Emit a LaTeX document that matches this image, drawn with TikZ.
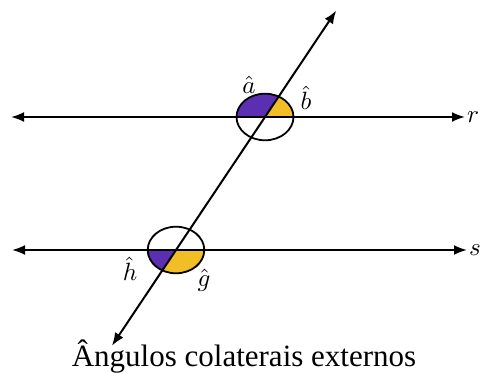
\documentclass[tikz,border=0pt]{standalone}
\usepackage{fontspec}
\setmainfont{Liberation Serif}
\usetikzlibrary{calc,arrows.meta}
\definecolor{anglepurple}{RGB}{92,46,178}
\definecolor{angleyellow}{RGB}{242,190,38}
\newcommand{\anglbl}[1]{\scalebox{2.5}{$#1$}}
\tikzset{
  line/.style={line width=2pt,{Latex[length=13pt,width=10pt]}-{Latex[length=13pt,width=10pt]}},
  ring/.style={line width=1.8pt},
  lbl/.style={inner sep=0pt}
}
\begin{document}
\begin{tikzpicture}[x=1pt,y=1pt]
\useasboundingbox (0,0) rectangle (482,374);
% intersections and line ends
\coordinate (A) at (265,257);
\coordinate (G) at (176,124);
\coordinate (rL) at (11,257);
\coordinate (rR) at (465,257);
\coordinate (sL) at (12,124);
\coordinate (sR) at (467,124);
\coordinate (tTop) at ($(G)!1.8!(A)$);
\coordinate (tBot) at ($(A)!1.72!(G)$);
% upper angles
\begin{scope}
  \clip (A) ellipse [x radius=28.5,y radius=23.3];
  \fill[anglepurple] (A) -- ++(44.5,66.5) -- ++(-104.5,0) -- ++(0,-66.5) -- cycle;
  \fill[angleyellow] (A) -- ++(60,0) -- ++(0,66.5) -- ++(-15.5,0) -- cycle;
\end{scope}
% lower angles
\begin{scope}
  \clip (G) ellipse [x radius=28.3,y radius=23.3];
  \fill[anglepurple] (G) -- ++(-60,0) -- ++(0,-66.5) -- ++(15.5,0) -- cycle;
  \fill[angleyellow] (G) -- ++(-44.5,-66.5) -- ++(104.5,0) -- ++(0,66.5) -- cycle;
\end{scope}
\draw[ring] (A) ellipse [x radius=28.5,y radius=23.3];
\draw[ring] (G) ellipse [x radius=28.3,y radius=23.3];
% lines
\draw[line] (rL) -- (rR);
\draw[line] (sL) -- (sR);
\draw[line] (tBot) -- (tTop);
\node[lbl,anchor=west] (r) at ($(rR)+(2,0)$) {\anglbl{r}};
\node[lbl,anchor=west] (s) at ($(sR)+(2,0)$) {\anglbl{s}};
\node[lbl] (a) at (249,289) {\anglbl{\hat{a}}};
\node[lbl] (b) at (306,276) {\anglbl{\hat{b}}};
\node[lbl] (h) at (130,105) {\anglbl{\hat{h}}};
\node[lbl] (g) at (204,94) {\anglbl{\hat{g}}};
\node[anchor=base,inner sep=0pt,font=\fontsize{31}{36}\selectfont] (title) at (244,7.5) {Ângulos colaterais externos};
\end{tikzpicture}
\end{document}
